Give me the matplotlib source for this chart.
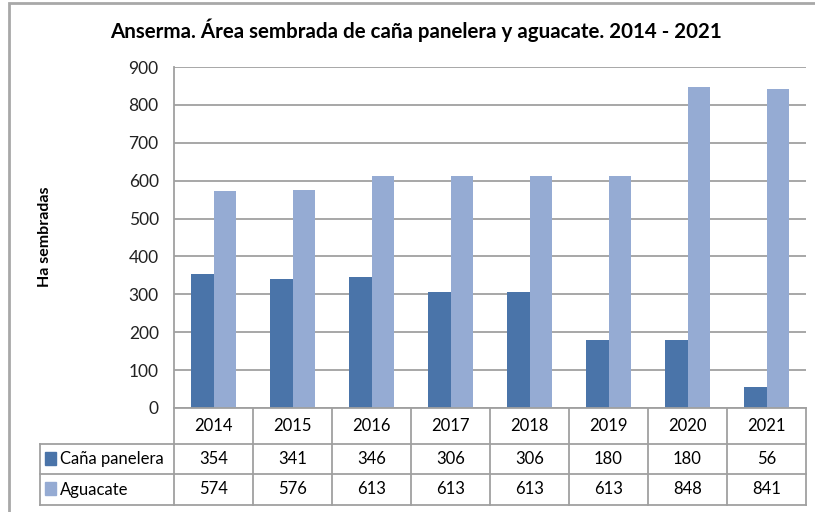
import numpy as np
import matplotlib.pyplot as plt
from matplotlib.patches import Rectangle

plt.rcParams['font.family'] = ['Lato', 'DejaVu Sans']

years = ['2014', '2015', '2016', '2017', '2018', '2019', '2020', '2021']
cana = [354, 341, 346, 306, 306, 180, 180, 56]
aguacate = [574, 576, 613, 613, 613, 613, 848, 841]
series_names = ['Caña panelera', 'Aguacate']
colors = ['#4A74A9', '#95ABD3']
grid_col = '#A0A0A0'

W, H = 815, 512
fig = plt.figure(figsize=(W / 100, H / 100), dpi=100)

def px_axes(x0, y0, x1, y1):
    # axes placed by pixel box (top-left origin)
    return fig.add_axes([x0 / W, 1 - y1 / H, (x1 - x0) / W, (y1 - y0) / H])

# outer chart frame
fig.patches.append(Rectangle((8.5 / W, -0.1), 1.0, 1 - 2.5 / H + 0.1,
                             transform=fig.transFigure, fill=False,
                             edgecolor='#A8A8A8', lw=2))

# bar area
ax = px_axes(174, 67, 806, 408)
x = np.arange(len(years))
bw = 0.285
ax.bar(x - bw / 2, cana, bw, color=colors[0], zorder=3)
ax.bar(x + bw / 2, aguacate, bw, color=colors[1], zorder=3)
ax.set_xlim(-0.5, len(years) - 0.5)
ax.set_ylim(0, 900)
ax.set_yticks(range(0, 901, 100))
ax.yaxis.grid(True, color=grid_col, lw=1.3, zorder=0)
ax.set_xticks([])
ax.tick_params(axis='y', length=0, pad=11, labelsize=12.5, labelcolor='#222222')
for s in ['top', 'right', 'bottom']:
    ax.spines[s].set_visible(False)
ax.spines['left'].set_color(grid_col)
ax.spines['left'].set_linewidth(1.3)

fig.text(45 / W, 1 - 237 / H, 'Ha sembradas', rotation=90,
         ha='center', va='center', fontsize=11.5, fontweight='bold')

fig.text(416 / W, 1 - 30 / H,
         'Anserma. Área sembrada de caña panelera y aguacate. 2014 - 2021',
         ha='center', va='center', fontsize=14.8, fontweight='bold')

# data table beneath the bars
label_w = 134 / 79
tx = px_axes(40, 408, 806, 506)
tx.set_xlim(-0.5 - label_w, len(years) - 0.5)
tx.set_ylim(3, 0)
tx.axis('off')
# row boundaries in pixels: 408, 444, 474, 505
rows_px = [408, 444, 474, 505]
rows = [(p - 408) / (506 - 408) * 3 for p in rows_px]
lc = '#A0A0A0'
lw = 1.3
left = -0.5 - label_w
right = len(years) - 0.5
tx.plot([-0.5, right], [rows[0]] * 2, color=lc, lw=lw, clip_on=False)
for r in rows[1:]:
    tx.plot([left, right], [r, r], color=lc, lw=lw, clip_on=False)
tx.plot([left, left], [rows[1], rows[3]], color=lc, lw=lw, clip_on=False)
for i in range(len(years) + 1):
    tx.plot([i - 0.5] * 2, [rows[0], rows[3]], color=lc, lw=lw, clip_on=False)

for i, y in enumerate(years):
    tx.text(i, (rows[0] + rows[1]) / 2, y, ha='center', va='center', fontsize=12)
for k, vals in enumerate([cana, aguacate]):
    yc = (rows[k + 1] + rows[k + 2]) / 2
    for i, v in enumerate(vals):
        tx.text(i, yc, str(v), ha='center', va='center', fontsize=12)
    tx.add_patch(Rectangle((left + 0.06, yc - 0.22), 0.14, 0.4,
                           color=colors[k], clip_on=False))
    tx.text(left + 0.25, yc, series_names[k], ha='left', va='center', fontsize=12)

fig.savefig('out.png', dpi=100)
